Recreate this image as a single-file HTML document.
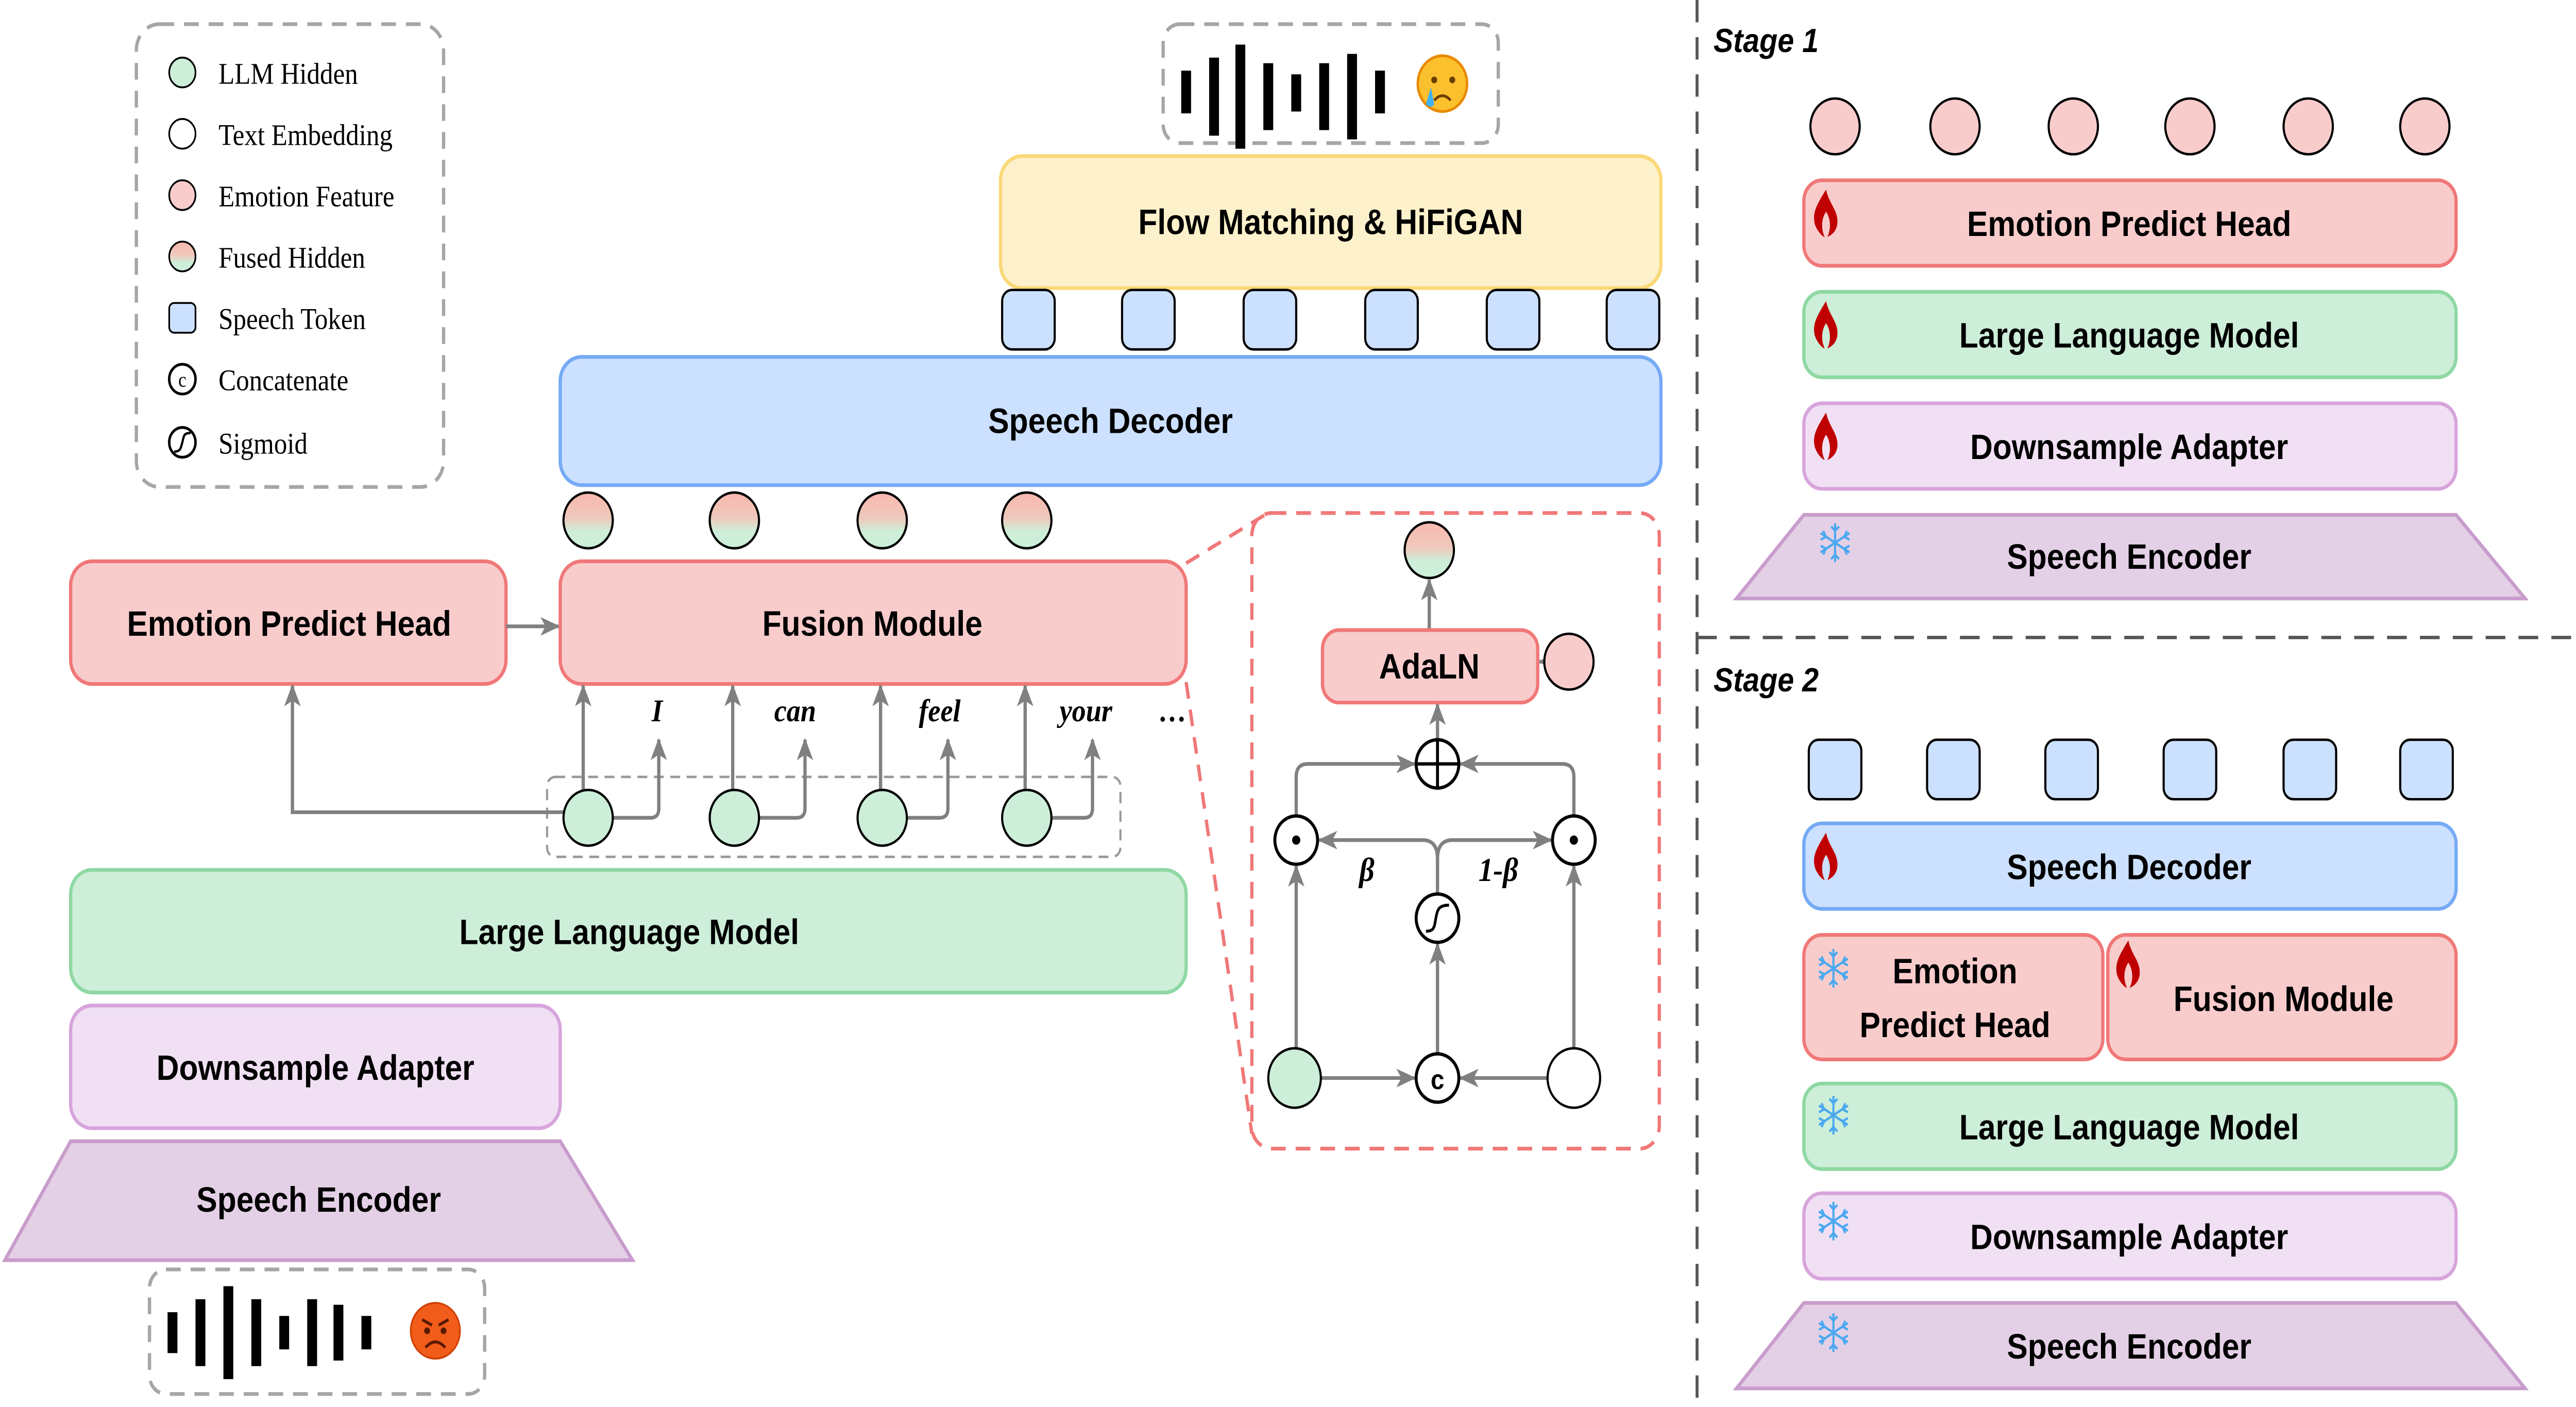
<!DOCTYPE html>
<html><head><meta charset="utf-8"><style>html,body{margin:0;padding:0;background:#fff;overflow:hidden;width:100%;height:100%}svg{display:block;position:absolute;left:0;top:0;width:100vw;height:100vh}</style></head>
<body>
<svg xmlns="http://www.w3.org/2000/svg" viewBox="0 0 1568 757" preserveAspectRatio="none">
<defs>
<linearGradient id="fg" x1="0" y1="0" x2="0" y2="1"><stop offset="0" stop-color="#f8b8ae"/><stop offset="0.45" stop-color="#f0c8bc"/><stop offset="0.7" stop-color="#cdeed8"/><stop offset="1" stop-color="#cdeed8"/></linearGradient>
<marker id="ar" viewBox="0 0 12 10" refX="11" refY="5" markerWidth="12" markerHeight="10" markerUnits="userSpaceOnUse" orient="auto"><path d="M0 0 L12 5 L0 10 L3 5 Z" fill="#808080"/></marker>
<g id="flame"><path d="M10 0 C3 10 0 15 2 22 C4 27 8 30 9 30 C6 24 7 18 10 14 C13 18 14 24 11 30 C16 28 19 24 18 18 C17 12 12 8 10 0Z" fill="#c00000"/></g>
<g id="snow" stroke="#4aa8f0" stroke-width="1.6" fill="none"><path d="M0 -13 V13 M-11 -6.5 L11 6.5 M-11 6.5 L11 -6.5 M-3 -11 L0 -8 L3 -11 M-3 11 L0 8 L3 11 M-11 -2 L-7 -4 L-9 -8 M11 2 L7 4 L9 8 M-11 2 L-7 4 L-9 8 M11 -2 L7 -4 L9 -8"/></g>
</defs>
<g font-family="Liberation Sans, sans-serif" font-weight="bold" font-size="19" text-anchor="middle">

<!-- legend -->
<rect x="83" y="13" width="187" height="249" rx="14" fill="none" stroke="#a6a6a6" stroke-width="2" stroke-dasharray="9,6"/>
<g font-family="Liberation Serif, serif" font-weight="normal" font-size="16" text-anchor="start">
<circle cx="111" cy="39" r="8" fill="#cdeed8" stroke="#000"/><text x="133" y="45">LLM Hidden</text>
<circle cx="111" cy="72" r="8" fill="#fff" stroke="#000"/><text x="133" y="78">Text Embedding</text>
<circle cx="111" cy="105" r="8" fill="#f9cccc" stroke="#000"/><text x="133" y="111">Emotion Feature</text>
<circle cx="111" cy="138" r="8" fill="url(#fg)" stroke="#000"/><text x="133" y="144">Fused Hidden</text>
<rect x="103" y="163" width="16" height="16" rx="3" fill="#cce0ff" stroke="#000"/><text x="133" y="177">Speech Token</text>
<circle cx="111" cy="204" r="8" fill="#fff" stroke="#000" stroke-width="1.5"/><text x="111" y="208" font-size="11" text-anchor="middle">c</text><text x="133" y="210">Concatenate</text>
<circle cx="111" cy="238" r="8" fill="#fff" stroke="#000" stroke-width="1.5"/><path d="M106 243 C110 243 110 241 111 238 C112 234 112 233 116 233" fill="none" stroke="#000" stroke-width="1.3"/><text x="133" y="244">Sigmoid</text>
</g>

<!-- top waveform -->
<rect x="708" y="13" width="204" height="64" rx="10" fill="none" stroke="#a6a6a6" stroke-width="2" stroke-dasharray="9,6"/>
<g fill="#000"><rect x="719" y="38" width="6" height="23"/><rect x="736" y="31" width="6" height="42"/><rect x="752" y="24" width="6" height="56"/><rect x="769" y="34" width="6" height="36"/><rect x="786" y="40" width="6" height="20"/><rect x="803" y="34" width="6" height="36"/><rect x="820" y="29" width="6" height="46"/><rect x="837" y="38" width="6" height="23"/></g>
<circle cx="878" cy="45" r="15" fill="#fbc02d" stroke="#e88a00" stroke-width="1.5"/><circle cx="873" cy="43" r="1.8" fill="#6b3d00"/><circle cx="884" cy="43" r="1.8" fill="#6b3d00"/><path d="M873 54 Q878 49 883 54" fill="none" stroke="#6b3d00" stroke-width="1.5"/><path d="M871 47 L868 56 Q871 59 873 56Z" fill="#3fb0f0"/>

<!-- flow matching -->
<rect x="609" y="84" width="402" height="71" rx="13" fill="#fdf1cb" stroke="#fad877" stroke-width="2"/>
<text x="810" y="126">Flow Matching &amp; HiFiGAN</text>
<g fill="#cce0ff" stroke="#000" stroke-width="1.3">
<rect x="610" y="156" width="32" height="32" rx="6"/><rect x="683" y="156" width="32" height="32" rx="6"/><rect x="757" y="156" width="32" height="32" rx="6"/><rect x="831" y="156" width="32" height="32" rx="6"/><rect x="905" y="156" width="32" height="32" rx="6"/><rect x="978" y="156" width="32" height="32" rx="6"/></g>

<!-- speech decoder -->
<rect x="341" y="192" width="670" height="69" rx="13" fill="#cce0ff" stroke="#75aaf5" stroke-width="2"/>
<text x="676" y="233">Speech Decoder</text>
<g fill="url(#fg)" stroke="#000" stroke-width="1.3"><circle cx="358" cy="280" r="15"/><circle cx="447" cy="280" r="15"/><circle cx="537" cy="280" r="15"/><circle cx="625" cy="280" r="15"/></g>

<!-- emotion head & fusion -->
<rect x="43" y="302" width="265" height="66" rx="13" fill="#f9cccc" stroke="#f07878" stroke-width="2"/>
<text x="176" y="342">Emotion Predict Head</text>
<line x1="308" y1="337" x2="340" y2="337" stroke="#808080" stroke-width="2" marker-end="url(#ar)"/>
<rect x="341" y="302" width="381" height="66" rx="13" fill="#f9cccc" stroke="#f07878" stroke-width="2"/>
<text x="531" y="342">Fusion Module</text>

<g font-family="Liberation Serif, serif" font-style="italic" font-size="17">
<text x="400" y="388">I</text><text x="484" y="388">can</text><text x="572" y="388">feel</text><text x="661" y="388">your</text><text x="714" y="388">…</text></g>

<!-- hidden dashed -->
<rect x="333" y="418" width="349" height="43" rx="5" fill="none" stroke="#999" stroke-width="1.3" stroke-dasharray="6,4"/>
<g stroke="#808080" stroke-width="2" fill="none">
<path d="M343 437 H178 V369" marker-end="url(#ar)"/>
<path d="M355 425 V369" marker-end="url(#ar)"/><path d="M446 425 V369" marker-end="url(#ar)"/><path d="M536 425 V369" marker-end="url(#ar)"/><path d="M624 425 V369" marker-end="url(#ar)"/>
<path d="M372 440 H396 Q401 440 401 435 V398" marker-end="url(#ar)"/>
<path d="M461 440 H485 Q490 440 490 435 V398" marker-end="url(#ar)"/>
<path d="M551 440 H572 Q577 440 577 435 V398" marker-end="url(#ar)"/>
<path d="M639 440 H660 Q665 440 665 435 V398" marker-end="url(#ar)"/>
</g>
<g fill="#cdeed8" stroke="#000" stroke-width="1.3"><circle cx="358" cy="440" r="15"/><circle cx="447" cy="440" r="15"/><circle cx="537" cy="440" r="15"/><circle cx="625" cy="440" r="15"/></g>

<rect x="43" y="468" width="679" height="66" rx="13" fill="#cdeed8" stroke="#8fd8a4" stroke-width="2"/>
<text x="383" y="508">Large Language Model</text>
<rect x="43" y="541" width="298" height="66" rx="13" fill="#f1e0f4" stroke="#d8a4dc" stroke-width="2"/>
<text x="192" y="581">Downsample Adapter</text>
<polygon points="43,614 341,614 385,678 3,678" fill="#e4d0e6" stroke="#c89ccc" stroke-width="2"/>
<text x="194" y="652">Speech Encoder</text>

<!-- bottom waveform -->
<rect x="91" y="683" width="204" height="67" rx="10" fill="none" stroke="#a6a6a6" stroke-width="2" stroke-dasharray="9,6"/>
<g fill="#000"><rect x="102" y="706" width="6" height="22"/><rect x="119" y="699" width="6" height="36"/><rect x="136" y="692" width="6" height="50"/><rect x="153" y="699" width="6" height="36"/><rect x="170" y="708" width="6" height="18"/><rect x="187" y="699" width="6" height="36"/><rect x="203" y="702" width="6" height="30"/><rect x="220" y="708" width="6" height="18"/></g>
<circle cx="265" cy="716" r="15" fill="#f25c1a" stroke="#d04000"/><path d="M257 710 L263 713 M273 710 L267 713" stroke="#5a1a00" stroke-width="1.6"/><circle cx="260" cy="716" r="1.8" fill="#5a1a00"/><circle cx="270" cy="716" r="1.8" fill="#5a1a00"/><path d="M259 725 Q265 719 271 725" fill="none" stroke="#5a1a00" stroke-width="1.6"/>

<!-- zoom inset -->
<g stroke="#f07878" stroke-width="2" stroke-dasharray="9,6" fill="none">
<path d="M722 303 L770 277"/><path d="M722 367 L762 610"/>
<rect x="762" y="276" width="248" height="342" rx="12"/></g>
<g stroke="#808080" stroke-width="2" fill="none">
<path d="M870 339 V312" marker-end="url(#ar)"/>
<path d="M939 356 H937" marker-end="url(#ar)"/><path d="M939 356 H948"/>
<path d="M875 398 V379" marker-end="url(#ar)"/>
<path d="M789 439 V418 Q789 411 796 411 H861" marker-end="url(#ar)"/>
<path d="M958 439 V418 Q958 411 951 411 H889" marker-end="url(#ar)"/>
<path d="M804 580 H861" marker-end="url(#ar)"/><path d="M942 580 H889" marker-end="url(#ar)"/>
<path d="M789 564 V466" marker-end="url(#ar)"/><path d="M958 564 V466" marker-end="url(#ar)"/>
<path d="M875 567 V508" marker-end="url(#ar)"/>
<path d="M875 481 V462 Q875 452 866 452 H803" marker-end="url(#ar)"/>
<path d="M875 462 Q875 452 884 452 H944" marker-end="url(#ar)"/>
</g>
<circle cx="870" cy="296" r="15" fill="url(#fg)" stroke="#000" stroke-width="1.3"/>
<rect x="805" y="339" width="131" height="39" rx="10" fill="#f9cccc" stroke="#f07878" stroke-width="2"/>
<text x="870" y="365">AdaLN</text>
<circle cx="955" cy="356" r="15" fill="#f9cccc" stroke="#000" stroke-width="1.3"/>
<circle cx="875" cy="411" r="13" fill="#fff" stroke="#000" stroke-width="1.8"/><path d="M862 411 H888 M875 398 V424" stroke="#000" stroke-width="1.8"/>
<circle cx="789" cy="452" r="13" fill="#fff" stroke="#000" stroke-width="1.8"/><circle cx="789" cy="452" r="2.5" fill="#000"/>
<circle cx="958" cy="452" r="13" fill="#fff" stroke="#000" stroke-width="1.8"/><circle cx="958" cy="452" r="2.5" fill="#000"/>
<circle cx="875" cy="494" r="13" fill="#fff" stroke="#000" stroke-width="1.8"/><path d="M868 501 C873 501 873 499 874 494 C875 489 876 487 882 487" fill="none" stroke="#000" stroke-width="1.6"/>
<circle cx="875" cy="580" r="13" fill="#fff" stroke="#000" stroke-width="1.8"/><text x="875" y="586" font-size="15">c</text>
<circle cx="788" cy="580" r="16" fill="#cdeed8" stroke="#000" stroke-width="1.3"/>
<circle cx="958" cy="580" r="16" fill="#fff" stroke="#000" stroke-width="1.3"/>
<g font-family="Liberation Serif, serif" font-style="italic" font-size="18"><text x="832" y="474">β</text><text x="912" y="474">1-β</text></g>

<!-- separators -->
<path d="M1033 0 V757 M1033 343 H1568" stroke="#555" stroke-width="1.8" stroke-dasharray="12,8" fill="none"/>
<g font-style="italic" font-size="18" text-anchor="start"><text x="1043" y="28">Stage 1</text><text x="1043" y="372">Stage 2</text></g>

<!-- stage 1 -->
<g fill="#f9cccc" stroke="#000" stroke-width="1.3"><circle cx="1117" cy="68" r="15"/><circle cx="1190" cy="68" r="15"/><circle cx="1262" cy="68" r="15"/><circle cx="1333" cy="68" r="15"/><circle cx="1405" cy="68" r="15"/><circle cx="1476" cy="68" r="15"/></g>
<rect x="1098" y="97" width="397" height="46" rx="11" fill="#f9cccc" stroke="#f07878" stroke-width="2"/><text x="1296" y="127">Emotion Predict Head</text>
<rect x="1098" y="157" width="397" height="46" rx="11" fill="#cdeed8" stroke="#8fd8a4" stroke-width="2"/><text x="1296" y="187">Large Language Model</text>
<rect x="1098" y="217" width="397" height="46" rx="11" fill="#f1e0f4" stroke="#d8a4dc" stroke-width="2"/><text x="1296" y="247">Downsample Adapter</text>
<polygon points="1098,277 1495,277 1537,322 1057,322" fill="#e4d0e6" stroke="#c89ccc" stroke-width="2"/><text x="1296" y="306">Speech Encoder</text>
<use href="#flame" transform="translate(1103,102) scale(0.85)"/>
<use href="#flame" transform="translate(1103,162) scale(0.85)"/>
<use href="#flame" transform="translate(1103,222) scale(0.85)"/>
<use href="#snow" transform="translate(1117,292) scale(0.8)"/>

<!-- stage 2 -->
<g fill="#cce0ff" stroke="#000" stroke-width="1.3">
<rect x="1101" y="398" width="32" height="32" rx="6"/><rect x="1173" y="398" width="32" height="32" rx="6"/><rect x="1245" y="398" width="32" height="32" rx="6"/><rect x="1317" y="398" width="32" height="32" rx="6"/><rect x="1390" y="398" width="32" height="32" rx="6"/><rect x="1461" y="398" width="32" height="32" rx="6"/></g>
<rect x="1098" y="443" width="397" height="46" rx="11" fill="#cce0ff" stroke="#75aaf5" stroke-width="2"/><text x="1296" y="473">Speech Decoder</text>
<rect x="1098" y="503" width="182" height="67" rx="11" fill="#f9cccc" stroke="#f07878" stroke-width="2"/><text x="1190" y="529">Emotion</text><text x="1190" y="558">Predict Head</text>
<rect x="1283" y="503" width="212" height="67" rx="11" fill="#f9cccc" stroke="#f07878" stroke-width="2"/><text x="1390" y="544">Fusion Module</text>
<rect x="1098" y="583" width="397" height="46" rx="11" fill="#cdeed8" stroke="#8fd8a4" stroke-width="2"/><text x="1296" y="613">Large Language Model</text>
<rect x="1098" y="642" width="397" height="46" rx="11" fill="#f1e0f4" stroke="#d8a4dc" stroke-width="2"/><text x="1296" y="672">Downsample Adapter</text>
<polygon points="1098,701 1495,701 1537,747 1057,747" fill="#e4d0e6" stroke="#c89ccc" stroke-width="2"/><text x="1296" y="731">Speech  Encoder</text>
<use href="#flame" transform="translate(1103,448) scale(0.85)"/>
<use href="#flame" transform="translate(1287,506) scale(0.85)"/>
<use href="#snow" transform="translate(1116,521) scale(0.8)"/>
<use href="#snow" transform="translate(1116,600) scale(0.8)"/>
<use href="#snow" transform="translate(1116,657) scale(0.8)"/>
<use href="#snow" transform="translate(1116,717) scale(0.8)"/>
</g>
</svg>
</body></html>
